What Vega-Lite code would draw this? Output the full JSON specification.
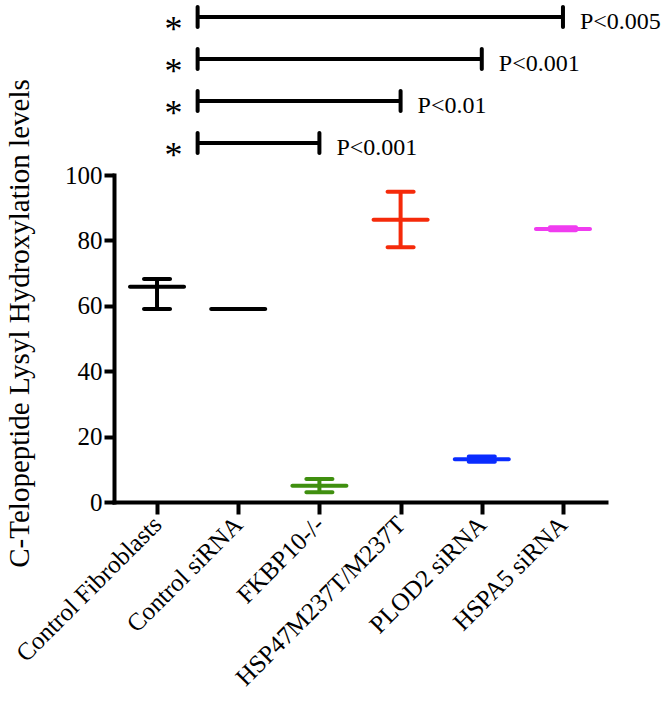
{
  "$schema": "https://vega.github.io/schema/vega-lite/v6.json",
  "background": "white",
  "padding": 5,
  "spacing": 20,
  "bounds": "flush",
  "config": {
    "view": {"stroke": null},
    "font": "Liberation Serif",
    "tick": {"opacity": 1},
    "rule": {"opacity": 1},
    "axis": {
      "domainColor": "black", "domainWidth": 4, "domainCap": "square",
      "tickColor": "black", "tickWidth": 4,
      "labelColor": "black", "labelFont": "Liberation Serif",
      "titleColor": "black", "titleFont": "Liberation Serif", "titleFontWeight": "normal",
      "grid": false
    }
  },
  "vconcat": [
    {
      "width": 492,
      "height": 150,
      "data": {"values": [
        {"comparison": "c1", "start": 1.5, "end": 6, "target": "HSPA5 siRNA", "label": "P<0.005"},
        {"comparison": "c2", "start": 1.5, "end": 5, "target": "PLOD2 siRNA", "label": "P<0.001"},
        {"comparison": "c3", "start": 1.5, "end": 4, "target": "HSP47M237T/M237T", "label": "P<0.01"},
        {"comparison": "c4", "start": 1.5, "end": 3, "target": "FKBP10-/-", "label": "P<0.001"}
      ]},
      "encoding": {
        "y": {"field": "comparison", "type": "ordinal", "sort": null, "scale": {"type": "point", "padding": 0.286}, "axis": null}
      },
      "layer": [
        {
          "mark": {"type": "rule", "strokeWidth": 4, "color": "black", "opacity": 1},
          "encoding": {
            "x": {"field": "start", "type": "quantitative", "scale": {"domain": [0.47, 6.53], "nice": false, "zero": false}, "axis": null},
            "x2": {"field": "end"}
          }
        },
        {
          "mark": {"type": "tick", "orient": "vertical", "size": 24, "thickness": 4, "color": "black", "cornerRadius": 2, "opacity": 1},
          "encoding": {"x": {"field": "start", "type": "quantitative"}}
        },
        {
          "mark": {"type": "tick", "orient": "vertical", "size": 24, "thickness": 4, "color": "black", "cornerRadius": 2, "opacity": 1},
          "encoding": {"x": {"field": "end", "type": "quantitative"}}
        },
        {
          "mark": {"type": "text", "text": "*", "fontSize": 36, "font": "Liberation Serif", "align": "center", "baseline": "middle", "dx": -24, "dy": 13, "color": "black"},
          "encoding": {"x": {"field": "start", "type": "quantitative"}}
        },
        {
          "mark": {"type": "text", "fontSize": 24, "font": "Liberation Serif", "align": "left", "baseline": "middle", "dx": 17, "dy": 5, "color": "black"},
          "encoding": {"x": {"field": "end", "type": "quantitative"}, "text": {"field": "label"}}
        }
      ]
    },
    {
      "width": 492,
      "height": 327,
      "data": {"values": [
        {"group": "Control Fibroblasts", "mean": 65.8, "lo": 59.0, "hi": 68.2},
        {"group": "Control siRNA", "mean": 59.0, "lo": 59.0, "hi": 59.0},
        {"group": "FKBP10-/-", "mean": 5.0, "lo": 3.0, "hi": 7.0},
        {"group": "HSP47M237T/M237T", "mean": 86.3, "lo": 77.9, "hi": 94.9},
        {"group": "PLOD2 siRNA", "mean": 13.1, "lo": 12.3, "hi": 13.9},
        {"group": "HSPA5 siRNA", "mean": 83.5, "lo": 83.1, "hi": 84.0}
      ]},
      "encoding": {
        "x": {
          "field": "group", "type": "nominal", "sort": null,
          "scale": {"type": "point", "padding": 0.53},
          "axis": {"title": null, "labelAngle": -45, "labelAlign": "right", "labelBaseline": "middle", "labelFont": "Liberation Serif", "labelFontSize": 25, "labelPadding": 6, "tickSize": 12, "labelLimit": 400}
        },
        "color": {
          "field": "group", "type": "nominal", "sort": null, "legend": null,
          "scale": {
            "domain": ["Control Fibroblasts", "Control siRNA", "FKBP10-/-", "HSP47M237T/M237T", "PLOD2 siRNA", "HSPA5 siRNA"],
            "range": ["#000000", "#000000", "#3f8f0f", "#f52a0a", "#0a2cff", "#f03cf0"]
          }
        }
      },
      "layer": [
        {
          "mark": {"type": "rule", "strokeWidth": 4, "opacity": 1},
          "encoding": {
            "y": {
              "field": "lo", "type": "quantitative",
              "scale": {"domain": [0, 100], "nice": false},
              "axis": {"title": "C-Telopeptide Lysyl Hydroxylation levels", "titleFont": "Liberation Serif", "titleFontSize": 29, "titlePadding": 30, "titleY": 148, "values": [0, 20, 40, 60, 80, 100], "labelFont": "Liberation Serif", "labelFontSize": 25, "labelPadding": 2, "tickSize": 10}
            },
            "y2": {"field": "hi"}
          }
        },
        {
          "mark": {"type": "tick", "size": 30, "thickness": 4, "cornerRadius": 2, "opacity": 1},
          "encoding": {"y": {"field": "lo", "type": "quantitative"}}
        },
        {
          "mark": {"type": "tick", "size": 30, "thickness": 4, "cornerRadius": 2, "opacity": 1},
          "encoding": {"y": {"field": "hi", "type": "quantitative"}}
        },
        {
          "mark": {"type": "tick", "size": 58, "thickness": 4, "cornerRadius": 2, "opacity": 1},
          "encoding": {"y": {"field": "mean", "type": "quantitative"}}
        }
      ]
    }
  ]
}
